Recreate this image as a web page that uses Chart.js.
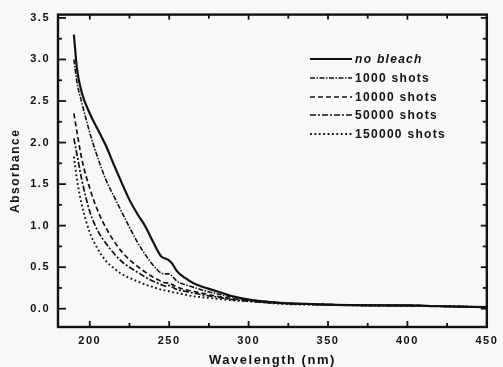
<!DOCTYPE html>
<html><head><meta charset="utf-8">
<script src="https://cdn.jsdelivr.net/npm/chart.js@4"></script>
<style>html,body{margin:0;padding:0;background:#f8f8f8;overflow:hidden}#wrap{width:503px;height:367px}</style>
</head><body><div id="wrap"><canvas id="c" width="503" height="367"></canvas></div>
<script>
const wavelengths = [190,192,195,200,205,210,215,220,225,230,235,240,245,248,250,252,255,260,265,270,280,290,300,320,350,380,400,420,450];
const noBleach    = [3.30,2.88,2.60,2.35,2.16,1.97,1.74,1.52,1.31,1.14,0.99,0.80,0.63,0.60,0.58,0.54,0.45,0.37,0.31,0.27,0.21,0.15,0.11,0.07,0.05,0.04,0.04,0.03,0.02];
const shots1000   = [3.00,2.72,2.48,2.12,1.82,1.56,1.36,1.17,0.98,0.80,0.65,0.52,0.43,0.42,0.42,0.39,0.33,0.29,0.26,0.23,0.18,0.14,0.11,0.07,0.05,0.04,0.04,0.03,0.02];
const shots10000  = [2.35,2.12,1.80,1.45,1.18,0.98,0.82,0.69,0.59,0.51,0.44,0.38,0.33,0.31,0.31,0.29,0.26,0.23,0.21,0.19,0.15,0.12,0.10,0.07,0.05,0.04,0.04,0.03,0.02];
const shots50000  = [2.05,1.85,1.55,1.17,0.94,0.79,0.67,0.57,0.50,0.44,0.38,0.33,0.29,0.27,0.28,0.26,0.23,0.21,0.19,0.17,0.14,0.11,0.09,0.065,0.05,0.04,0.035,0.03,0.02];
const shots150000 = [1.83,1.55,1.25,0.92,0.72,0.58,0.49,0.42,0.37,0.33,0.29,0.26,0.23,0.22,0.21,0.20,0.19,0.17,0.15,0.14,0.12,0.10,0.09,0.06,0.045,0.04,0.035,0.03,0.02];
const seriesLabels = ['no bleach','1000 shots','10000 shots','50000 shots','150000 shots'];
const xTickValues = [200,250,300,350,400,450];
const yTickValues = [0,0.5,1,1.5,2,2.5,3,3.5];
const xMinorStep = 25;
const yMinorStep = 0.25;

const seriesValues = [noBleach, shots1000, shots10000, shots50000, shots150000];
const dashes = [[], [5,1.5,1.5,1.5], [5,3], [6,2,2,2], [1.8,2.6]];
const widths = [2.2, 1.6, 1.7, 1.7, 1.9];

function pts(arr){ return wavelengths.map((w,i)=>({x:w,y:arr[i]})); }

const datasets = seriesValues.map((vals,i)=>({
  label: seriesLabels[i],
  data: pts(vals),
  borderColor:'#111',
  borderWidth: widths[i],
  borderDash: dashes[i],
  pointRadius:0,
  fill:false,
  cubicInterpolationMode:'monotone'
}));

const spacingPlugin = {
  id:'spacing',
  beforeDraw(chart){
    const ctx = chart.ctx;
    ctx.save();
    ctx.fillStyle = '#f8f8f8';
    ctx.fillRect(0,0,chart.width,chart.height);
    ctx.restore();
    ctx.letterSpacing = '1.5px';
  }
};

const framePlugin = {
  id:'frame',
  afterDraw(chart){
    const ctx = chart.ctx, a = chart.chartArea, x = chart.scales.x, y = chart.scales.y;
    ctx.save();
    ctx.strokeStyle = '#111';
    ctx.setLineDash([]);
    ctx.lineWidth = 2.4;
    ctx.strokeRect(a.left, a.top, a.right - a.left, a.bottom - a.top);
    ctx.lineWidth = 1.8;
    const seg = (x1,y1,x2,y2)=>{ctx.beginPath();ctx.moveTo(x1,y1);ctx.lineTo(x2,y2);ctx.stroke();};
    for (let v = xTickValues[0]; v <= x.max + 1e-9; v += xMinorStep) {
      const px = x.getPixelForValue(v);
      const major = xTickValues.includes(v);
      seg(px, a.bottom, px, a.bottom - (major ? 6 : 4));
      seg(px, a.top, px, a.top + (major ? 5 : 4));
    }
    for (let k = 0; k * yMinorStep <= y.max + 1e-9; k++) {
      const v = k * yMinorStep;
      const py = y.getPixelForValue(v);
      const major = k % 2 === 0;
      seg(a.left, py, a.left + (major ? 8 : 4), py);
      seg(a.right, py, a.right - (major ? 6 : 4), py);
    }
    // legend
    const rows = [59, 78, 97, 115, 134];
    const lx1 = 310, lx2 = 352, tx = 355;
    ctx.fillStyle = '#111';
    ctx.textBaseline = 'middle';
    ctx.textAlign = 'left';
    ctx.letterSpacing = '1.3px';
    chart.data.datasets.forEach((ds,i)=>{
      ctx.lineWidth = ds.borderWidth;
      ctx.setLineDash(ds.borderDash);
      seg(lx1, rows[i], lx2, rows[i]);
      ctx.setLineDash([]);
      ctx.font = (i === 0 ? 'italic ' : '') + 'bold 12px "Liberation Sans", Arial, sans-serif';
      ctx.fillText(ds.label, tx, rows[i] + 1);
    });
    ctx.restore();
  }
};

new Chart(document.getElementById('c'), {
  type:'line',
  data:{datasets},
  plugins:[spacingPlugin, framePlugin],
  options:{
    responsive:false,
    animation:false,
    layout:{padding:{left:0,right:9,top:14,bottom:0}},
    plugins:{legend:{display:false}, tooltip:{enabled:false}},
    scales:{
      x:{
        type:'linear', min:180, max:450,
        grid:{display:false, drawTicks:false},
        border:{display:false},
        afterBuildTicks(s){ s.ticks = xTickValues.map(v=>({value:v})); },
        afterFit(s){ s.height = 40; },
        ticks:{color:'#111', padding:7, maxRotation:0, autoSkip:false,
          font:{family:'"Liberation Sans", Arial, sans-serif', size:11, weight:'bold'},
          callback:(v)=>String(v)},
        title:{display:true, text:'Wavelength (nm)', color:'#111', padding:{top:0,bottom:0},
          font:{family:'"Liberation Sans", Arial, sans-serif', size:13, weight:'bold', lineHeight:1}}
      },
      y:{
        type:'linear', min:-0.22, max:3.54,
        grid:{display:false, drawTicks:false},
        border:{display:false},
        afterBuildTicks(s){ s.ticks = yTickValues.map(v=>({value:v})); },
        afterFit(s){ s.width = 58; },
        ticks:{color:'#111', padding:8, autoSkip:false,
          font:{family:'"Liberation Sans", Arial, sans-serif', size:11, weight:'bold'},
          callback:(v)=>Number(v).toFixed(1)},
        title:{display:true, text:'Absorbance', color:'#111', padding:{top:10,bottom:0},
          font:{family:'"Liberation Sans", Arial, sans-serif', size:12, weight:'bold', lineHeight:1}}
      }
    }
  }
});
</script>
</body></html>
